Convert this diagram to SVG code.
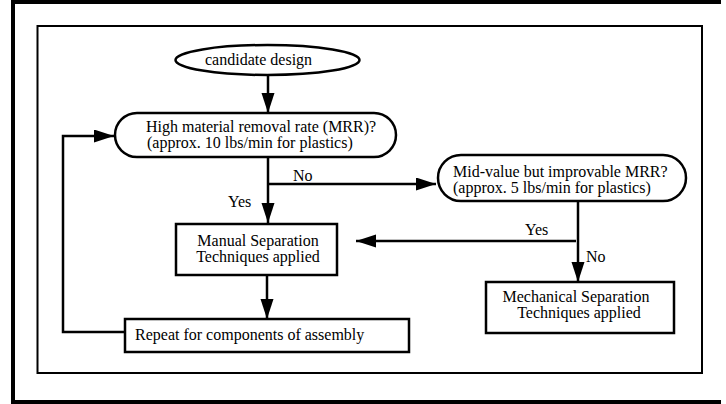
<svg xmlns="http://www.w3.org/2000/svg" width="726" height="404" viewBox="0 0 726 404">
<style>
.t{font-family:"Liberation Serif","Times New Roman",serif;font-size:16px;fill:#000}
.n{fill:#fff;stroke:#000;stroke-width:2.5}
.c{fill:none;stroke:#000;stroke-width:2.5}
</style>
<defs>
<marker id="ah" markerUnits="userSpaceOnUse" markerWidth="22" markerHeight="14" refX="20" refY="6.5" orient="auto">
<path d="M0,0 L20,6.5 L0,13 Z" fill="#000"/>
</marker>
</defs>
<rect width="726" height="404" fill="#fff"/>
<path d="M721,2 H13 V402 H721" fill="none" stroke="#000" stroke-width="4"/>
<rect x="37.5" y="26" width="664.5" height="347" fill="none" stroke="#000" stroke-width="2"/>
<g id="connectors">
<path class="c" d="M268,75 V113" marker-end="url(#ah)"/>
<path class="c" d="M268,157 V223" marker-end="url(#ah)"/>
<path class="c" d="M268,184 H436" marker-end="url(#ah)"/>
<path class="c" d="M578,201 V282" marker-end="url(#ah)"/>
<path class="c" d="M576,241 H356" marker-end="url(#ah)"/>
<path class="c" d="M267,275 V319" marker-end="url(#ah)"/>
<path class="c" d="M124,332 H63 V136 H114" marker-end="url(#ah)"/>
<text class="t" x="293" y="181">No</text>
<text class="t" x="228" y="207">Yes</text>
<text class="t" x="525" y="235">Yes</text>
<text class="t" x="586" y="262">No</text>
</g>
<g id="start">
<ellipse class="n" cx="267.5" cy="60" rx="92" ry="15"/>
<text class="t" x="205" y="65">candidate design</text>
</g>
<g id="high-mrr">
<rect class="n" x="115" y="113" width="281" height="44" rx="22"/>
<text class="t" x="146" y="131.5">High material removal rate (MRR)?</text>
<text class="t" x="147" y="147.5">(approx. 10 lbs/min for plastics)</text>
</g>
<g id="mid-mrr">
<rect class="n" x="438" y="155" width="248" height="46" rx="23"/>
<text class="t" x="453" y="177">Mid-value but improvable MRR?</text>
<text class="t" x="453" y="193">(approx. 5 lbs/min for plastics)</text>
</g>
<g id="manual">
<rect class="n" x="176" y="224" width="161" height="51"/>
<text class="t" x="258" y="245.5" text-anchor="middle">Manual Separation</text>
<text class="t" x="258" y="261.5" text-anchor="middle">Techniques applied</text>
</g>
<g id="mechanical">
<rect class="n" x="486" y="282" width="188" height="51"/>
<text class="t" x="576" y="302" text-anchor="middle">Mechanical Separation</text>
<text class="t" x="579" y="318" text-anchor="middle">Techniques applied</text>
</g>
<g id="repeat">
<rect class="n" x="125" y="319" width="284" height="33"/>
<text class="t" x="135" y="340">Repeat for components of assembly</text>
</g>
</svg>
